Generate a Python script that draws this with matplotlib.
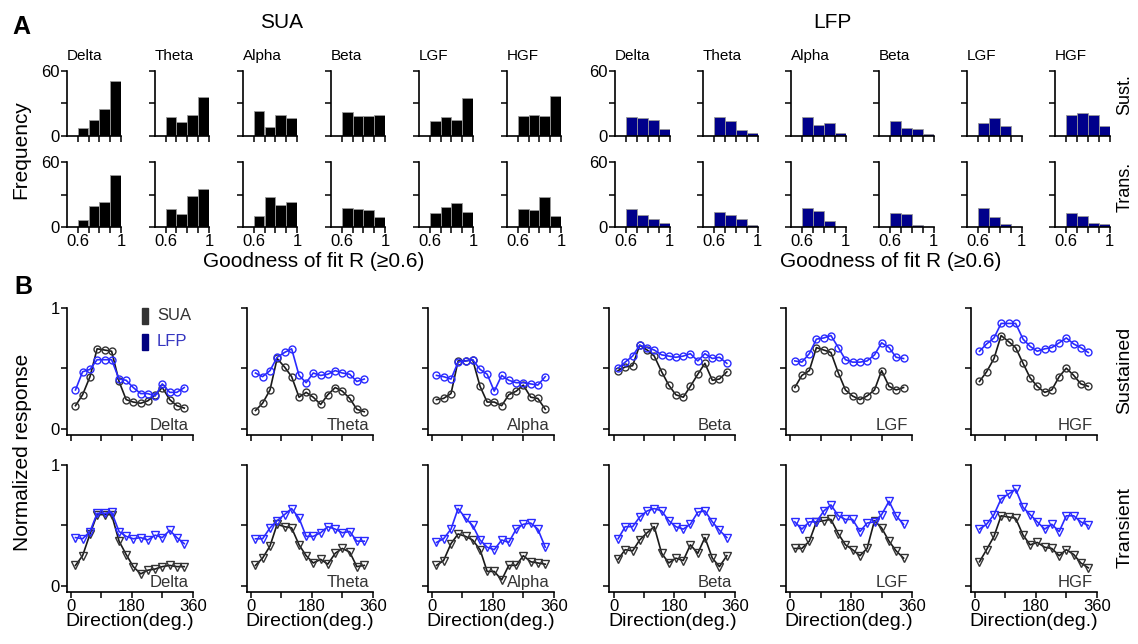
import numpy as np
import matplotlib.pyplot as plt
from matplotlib.patches import Rectangle

plt.rcParams['font.family'] = ['Liberation Sans', 'DejaVu Sans']

W, H = 1138, 644

bands = ['Delta', 'Theta', 'Alpha', 'Beta', 'LGF', 'HGF']

# ---- A: histograms of goodness of fit (bins 0.6-0.7 ... 0.9-1.0)
bin_left = [0.6, 0.7, 0.8, 0.9]
sua_sust_hist = [[7.7, 14.8, 25.0, 51.2], [17.1, 12.7, 19.0, 36.1], [23.3, 8.7, 19.0, 16.2],
                 [21.8, 18.0, 18.0, 19.0], [14.0, 17.1, 14.9, 35.1], [18.0, 19.0, 18.0, 37.3]]
sua_trans_hist = [[6.8, 19.3, 23.3, 47.6], [16.2, 11.8, 28.9, 35.1], [9.9, 28.0, 20.2, 23.0],
                  [17.7, 16.8, 15.9, 9.3], [13.1, 18.7, 21.8, 13.7], [16.8, 15.9, 27.6, 10.5]]
lfp_sust_hist = [[17.1, 16.2, 14.9, 6.2], [17.1, 14.0, 5.3, 3.1], [17.1, 9.9, 11.8, 3.1],
                 [14.0, 7.2, 6.2, 2.2], [11.8, 16.2, 9.0, 0], [19.0, 21.1, 19.0, 8.8]]
lfp_trans_hist = [[16.5, 10.9, 7.8, 4.0], [14.0, 10.9, 7.8, 2.2], [17.1, 14.9, 5.9, 0],
                  [13.1, 12.4, 2.2, 0], [17.1, 9.0, 3.1, 0], [13.0, 9.8, 3.7, 2.8]]

# ---- B: tuning curves
directions = [13, 34, 56, 77, 99, 120, 142, 163, 184, 206, 227, 249, 270, 292, 313, 335]
sua_sust = [
    [0.19, 0.28, 0.43, 0.66, 0.65, 0.64, 0.39, 0.24, 0.22, 0.21, 0.23, 0.28, 0.34, 0.24, 0.19, 0.17],
    [0.15, 0.21, 0.32, 0.58, 0.51, 0.43, 0.26, 0.30, 0.26, 0.20, 0.28, 0.34, 0.31, 0.25, 0.16, 0.14],
    [0.24, 0.25, 0.29, 0.56, 0.56, 0.57, 0.35, 0.22, 0.22, 0.19, 0.28, 0.31, 0.36, 0.26, 0.25, 0.16],
    [0.48, 0.51, 0.52, 0.69, 0.65, 0.60, 0.47, 0.36, 0.28, 0.26, 0.35, 0.45, 0.54, 0.40, 0.41, 0.47],
    [0.34, 0.44, 0.48, 0.67, 0.65, 0.63, 0.46, 0.32, 0.27, 0.24, 0.27, 0.32, 0.48, 0.35, 0.32, 0.34],
    [0.39, 0.47, 0.58, 0.77, 0.72, 0.67, 0.54, 0.42, 0.35, 0.30, 0.32, 0.43, 0.50, 0.44, 0.37, 0.35],
]
lfp_sust = [
    [0.32, 0.47, 0.49, 0.57, 0.57, 0.57, 0.41, 0.40, 0.34, 0.29, 0.29, 0.27, 0.37, 0.30, 0.30, 0.34],
    [0.46, 0.43, 0.48, 0.59, 0.63, 0.66, 0.44, 0.38, 0.46, 0.44, 0.45, 0.48, 0.46, 0.45, 0.39, 0.41],
    [0.44, 0.43, 0.41, 0.55, 0.56, 0.57, 0.49, 0.45, 0.31, 0.44, 0.40, 0.38, 0.38, 0.37, 0.36, 0.43],
    [0.50, 0.55, 0.60, 0.69, 0.67, 0.65, 0.61, 0.60, 0.59, 0.60, 0.62, 0.56, 0.62, 0.58, 0.59, 0.54],
    [0.56, 0.55, 0.62, 0.74, 0.75, 0.77, 0.67, 0.57, 0.55, 0.55, 0.56, 0.61, 0.71, 0.67, 0.59, 0.58],
    [0.64, 0.70, 0.75, 0.87, 0.87, 0.87, 0.74, 0.68, 0.64, 0.66, 0.67, 0.71, 0.75, 0.70, 0.67, 0.63],
]
sua_trans = [
    [0.17, 0.25, 0.43, 0.59, 0.59, 0.59, 0.37, 0.26, 0.16, 0.10, 0.13, 0.14, 0.16, 0.17, 0.16, 0.16],
    [0.17, 0.23, 0.33, 0.51, 0.49, 0.48, 0.34, 0.25, 0.19, 0.22, 0.18, 0.27, 0.31, 0.28, 0.16, 0.17],
    [0.17, 0.21, 0.35, 0.43, 0.41, 0.38, 0.30, 0.12, 0.12, 0.05, 0.17, 0.17, 0.25, 0.20, 0.19, 0.18],
    [0.22, 0.30, 0.29, 0.38, 0.44, 0.49, 0.27, 0.19, 0.23, 0.21, 0.34, 0.27, 0.40, 0.23, 0.16, 0.25],
    [0.31, 0.31, 0.37, 0.53, 0.54, 0.55, 0.43, 0.34, 0.30, 0.25, 0.31, 0.54, 0.48, 0.37, 0.29, 0.23],
    [0.20, 0.30, 0.41, 0.58, 0.57, 0.56, 0.42, 0.34, 0.36, 0.32, 0.31, 0.25, 0.30, 0.26, 0.19, 0.15],
]
lfp_trans = [
    [0.40, 0.39, 0.45, 0.60, 0.60, 0.61, 0.45, 0.41, 0.39, 0.40, 0.38, 0.42, 0.40, 0.46, 0.40, 0.35],
    [0.39, 0.39, 0.48, 0.54, 0.59, 0.64, 0.56, 0.41, 0.41, 0.44, 0.49, 0.47, 0.44, 0.45, 0.37, 0.37],
    [0.36, 0.39, 0.47, 0.64, 0.56, 0.50, 0.38, 0.32, 0.30, 0.38, 0.36, 0.47, 0.51, 0.52, 0.47, 0.32],
    [0.39, 0.49, 0.49, 0.57, 0.62, 0.64, 0.62, 0.54, 0.49, 0.47, 0.51, 0.61, 0.62, 0.53, 0.46, 0.40],
    [0.53, 0.47, 0.53, 0.53, 0.62, 0.67, 0.58, 0.55, 0.55, 0.45, 0.52, 0.53, 0.59, 0.70, 0.58, 0.51],
    [0.47, 0.51, 0.59, 0.72, 0.76, 0.80, 0.65, 0.59, 0.53, 0.47, 0.51, 0.45, 0.58, 0.58, 0.53, 0.50],
]

SUA_BAR = 'black'
LFP_BAR = '#00008b'
SUA_LINE = '#1a1a1a'
LFP_LINE = '#2a2aff'

fig = plt.figure(figsize=(W / 100, H / 100), dpi=100)


def px_axes(left, top, w, h):
    return fig.add_axes([left / W, 1 - (top + h) / H, w / W, h / H])


def style(ax):
    for s in ['top', 'right']:
        ax.spines[s].set_visible(False)
    for s in ['left', 'bottom']:
        ax.spines[s].set_linewidth(1.2)
    ax.tick_params(direction='out', length=4, width=1.1, labelsize=12, pad=1)


def hist_panel(ax, counts, color, first_col, bottom_row):
    ax.bar(bin_left, counts, width=0.1, align='edge', color=color,
           edgecolor='#9a9a9a', linewidth=0.6)
    ax.set_xlim(0.5, 1.0)
    ax.set_ylim(0, 60)
    ax.set_xticks([0.6, 0.7, 0.8, 0.9, 1.0])
    ax.set_xticklabels(['0.6', '', '', '', '1'] if bottom_row else [])
    ax.set_yticks([0, 30, 60])
    ax.set_yticklabels(['0', '', '60'] if first_col else [])
    style(ax)


hist_rows = [(71, sua_sust_hist, lfp_sust_hist), (162, sua_trans_hist, lfp_trans_hist)]
for r, (top, sua_h, lfp_h) in enumerate(hist_rows):
    for i, band in enumerate(bands):
        ax = px_axes(66.7 + 88 * i, top, 54.5, 65)
        hist_panel(ax, sua_h[i], SUA_BAR, i == 0, r == 1)
        if r == 0:
            ax.text(0.0, 1.12, band, transform=ax.transAxes, fontsize=11, ha='left', va='bottom')
        ax = px_axes(615 + 88 * i, top, 54.5, 65)
        hist_panel(ax, lfp_h[i], LFP_BAR, i == 0, r == 1)
        if r == 0:
            ax.text(0.0, 1.12, band, transform=ax.transAxes, fontsize=11, ha='left', va='bottom')

# ---- B panels
line_lefts = [66.7, 246.7, 427.7, 609.3, 786, 970.7]
line_rows = [(307.7, sua_sust, lfp_sust, 'o'), (465, sua_trans, lfp_trans, 'v')]
for r, (top, sua, lfp, mk) in enumerate(line_rows):
    for i, band in enumerate(bands):
        ax = px_axes(line_lefts[i], top, 126, 127)
        ms = 5 if mk == 'o' else 6
        ax.plot(directions, sua[i], color=SUA_LINE, lw=1.2, marker=mk, ms=ms,
                mfc='none', mec='#333333', mew=1.0)
        ax.plot(directions, lfp[i], color=LFP_LINE, lw=1.2, marker=mk, ms=ms,
                mfc='none', mec=LFP_LINE, mew=1.0)
        ax.set_xlim(-13, 360)
        ax.set_ylim(-0.05, 1)
        ax.set_xticks([0, 90, 180, 270, 360])
        ax.set_xticklabels(['0', '', '180', '', '360'] if r == 1 else [])
        ax.set_yticks([0, 0.5, 1])
        ax.set_yticklabels(['0', '', '1'] if i == 0 else [])
        style(ax)
        ax.text(0.97, 0.015, band, transform=ax.transAxes, ha='right', va='bottom',
                fontsize=12, color='#333333')
        if r == 1:
            ax.set_xlabel('Direction(deg.)', fontsize=14, labelpad=-1)
        if r == 0 and i == 0:
            ax.add_patch(Rectangle((0.595, 0.87), 0.05, 0.13, transform=ax.transAxes,
                                   color='#333333', clip_on=False))
            ax.add_patch(Rectangle((0.595, 0.67), 0.05, 0.12, transform=ax.transAxes,
                                   color='#000080', clip_on=False))
            ax.text(0.715, 0.935, 'SUA', transform=ax.transAxes, fontsize=12,
                    va='center', color='#333333')
            ax.text(0.715, 0.73, 'LFP', transform=ax.transAxes, fontsize=12,
                    va='center', color='#3535c0')

# labels
fig.text(12 / W, 1 - 27 / H, 'A', fontsize=18, fontweight='bold', va='center')
fig.text(14 / W, 1 - 287 / H, 'B', fontsize=18, fontweight='bold', va='center')
fig.text(282 / W, 1 - 22 / H, 'SUA', fontsize=15, ha='center', va='center')
fig.text(832 / W, 1 - 22 / H, 'LFP', fontsize=15, ha='center', va='center')
fig.text(21 / W, 1 - 150 / H, 'Frequency', fontsize=15, rotation=90, ha='center', va='center')
fig.text(23 / W, 1 - 452 / H, 'Normalized response', fontsize=15, rotation=90,
         ha='center', va='center')
fig.text(314 / W, 1 - 262 / H, 'Goodness of fit R (\u22650.6)', fontsize=15, ha='center', va='center')
fig.text(891 / W, 1 - 262 / H, 'Goodness of fit R (\u22650.6)', fontsize=15, ha='center', va='center')
fig.text(1125 / W, 1 - 95 / H, 'Sust.', fontsize=13, rotation=90, ha='center', va='center')
fig.text(1125 / W, 1 - 187 / H, 'Trans.', fontsize=13, rotation=90, ha='center', va='center')
fig.text(1125 / W, 1 - 370 / H, 'Sustained', fontsize=14, rotation=90, ha='center', va='center')
fig.text(1125 / W, 1 - 527 / H, 'Transient', fontsize=14, rotation=90, ha='center', va='center')

fig.savefig('out.png', dpi=100)
